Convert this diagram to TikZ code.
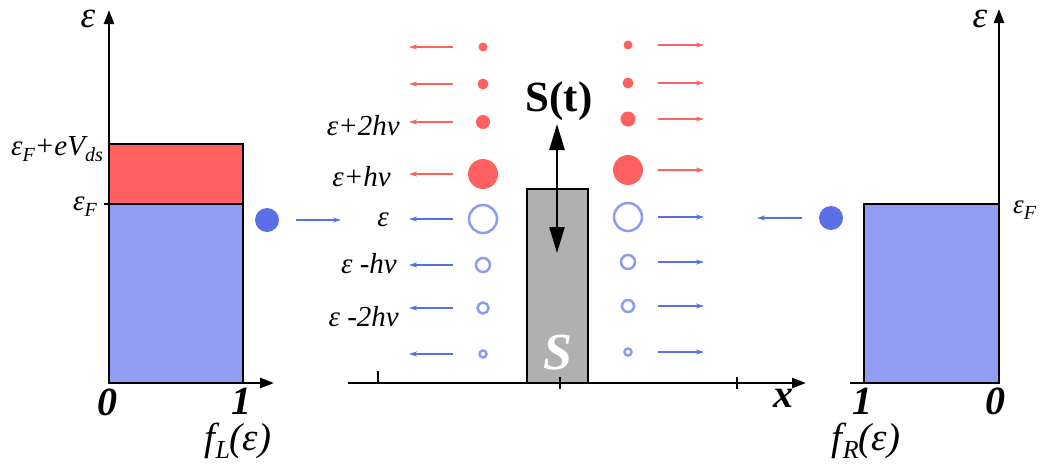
\documentclass[tikz,border=0pt]{standalone}
\usepackage{fontspec}
\setmainfont{LiberationSerif}[Extension=.ttf,UprightFont=*-Regular,ItalicFont=*-Italic,BoldFont=*-Bold,BoldItalicFont=*-BoldItalic]
\usetikzlibrary{arrows.meta}
\definecolor{hotred}{HTML}{FF6060}
\definecolor{fillblue}{HTML}{919DF3}
\definecolor{dotblue}{HTML}{5A6FE8}
\definecolor{ringblue}{HTML}{8C9BF2}
\definecolor{arrblue}{HTML}{5570E8}
\definecolor{barrier}{HTML}{B0B0B0}
\newcommand{\lowtxt}[1]{\raisebox{-6pt}{\fontsize{20}{20}\selectfont #1}}
\newcommand{\lowfn}[1]{\raisebox{-8pt}{\fontsize{26}{26}\selectfont #1}}
\tikzset{
  axisline/.style={line width=2.5pt,-{Triangle[length=14pt,width=10pt]}},
  flow/.style={line width=1.6pt,-{Stealth[length=8pt,width=5pt]}},
  box/.style={line width=1.5pt,draw=black},
  full/.style={circle,fill=hotred,inner sep=0pt,minimum size=#1},
  ring/.style={circle,draw=ringblue,line width=2.5pt,inner sep=0pt,minimum size=#1},
  lbl/.style={inner sep=0pt,font=\fontsize{29}{31}\selectfont\itshape},
  tick/.style={inner sep=0pt,text depth=0pt,font=\fontsize{40}{42}\selectfont\itshape\bfseries},
  eps/.style={inner sep=0pt,text height=17pt,font=\fontsize{37}{39}\selectfont\itshape},
  fn/.style={inner sep=0pt,font=\fontsize{39}{41}\selectfont\itshape},
}
\begin{document}
\begin{tikzpicture}[x=1pt,y=-1pt]
  \useasboundingbox (0,0) rectangle (1045,464);

  % left lead
  \fill[fillblue] (109,204) rectangle (243,383);
  \draw[box] (109,204) rectangle (243,383);
  \fill[hotred] (109,144) rectangle (243,204);
  \draw[box] (109,144) rectangle (243,204);
  \coordinate (Lo) at (109,383);
  \coordinate (Ltop) at (109,10);
  \coordinate (Lend) at (274,383);
  \draw[axisline] (Lo) -- (Ltop);
  \draw[axisline] (Lo) -- (Lend);
  \draw[line width=1.5pt] (104,204) -- (109,204);
  \node[eps,anchor=base] (epsL) at (88,27) {ε};
  \node[lbl,anchor=base east] (muL) at (103,155) {ε\lowtxt{F}+\itshape eV\lowtxt{ds}};
  \node[lbl,anchor=base east] (efL) at (97,210) {ε\lowtxt{F}};
  \node[tick,anchor=base] (zeroL) at (107,415) {0};
  \node[tick,anchor=base] (oneL) at (241,414) {1};
  \node[fn,anchor=base] (fL) at (238,450) {f\lowfn{L}(ε)};

  % incoming electrons
  \node[circle,fill=dotblue,inner sep=0pt,minimum size=24pt] (inL) at (267,220) {};
  \coordinate (inLa) at (296,220);
  \coordinate (inLb) at (341,220);
  \draw[flow,arrblue] (inLa) -- (inLb);
  \node[circle,fill=dotblue,inner sep=0pt,minimum size=24pt] (inR) at (831,218) {};
  \coordinate (inRa) at (802,218);
  \coordinate (inRb) at (757,218);
  \draw[flow,arrblue] (inRa) -- (inRb);

  % sidebands
  \foreach \n/\y/\d in {1/47/9,2/84/11,3/122/14,4/174/30} {
    \node[full=\d] (L\n) at (483,\y) {};
    \coordinate (La\n) at (453,\y);
    \coordinate (Lb\n) at (409,\y);
    \draw[flow,hotred] (La\n) -- (Lb\n);
  }
  \foreach \n/\y/\d in {5/219/28,6/265/14,7/308/11,8/354/7} {
    \node[ring=\d] (L\n) at (483,\y) {};
    \coordinate (La\n) at (453,\y);
    \coordinate (Lb\n) at (409,\y);
    \draw[flow,arrblue] (La\n) -- (Lb\n);
  }
  \foreach \n/\y/\d in {1/45/9,2/83/11,3/119/15,4/170/30} {
    \node[full=\d] (R\n) at (628,\y) {};
    \coordinate (Ra\n) at (658,\y);
    \coordinate (Rb\n) at (704,\y);
    \draw[flow,hotred] (Ra\n) -- (Rb\n);
  }
  \foreach \n/\y/\d in {5/217/28,6/262/14,7/306/12,8/352/7} {
    \node[ring=\d] (R\n) at (628,\y) {};
    \coordinate (Ra\n) at (658,\y);
    \coordinate (Rb\n) at (704,\y);
    \draw[flow,arrblue] (Ra\n) -- (Rb\n);
  }

  % energy labels
  \node[lbl,anchor=base east] (e2p) at (400,135) {ε+2hν};
  \node[lbl,anchor=base east] (e1p) at (391,186) {ε+hν};
  \node[lbl,anchor=base east] (e0) at (389,226) {ε};
  \node[lbl,anchor=base east] (e1m) at (397,273) {ε -hν};
  \node[lbl,anchor=base east] (e2m) at (399,326) {ε -2hν};

  % scatterer
  \fill[barrier] (527,189) rectangle (588,383);
  \draw[box,line width=2pt] (527,189) rectangle (588,383);
  \node[inner sep=0pt,text=white,font=\fontsize{52}{54}\selectfont\itshape\bfseries,anchor=base] (Sname) at (558,369) {S};
  \coordinate (Sx) at (348,383);
  \coordinate (Sxend) at (806,383);
  \draw[axisline] (Sx) -- (Sxend);
  \draw[line width=2pt] (378,371) -- (378,383);
  \draw[line width=2pt] (560,377) -- (560,389);
  \draw[line width=2pt] (737,377) -- (737,389);
  \node[inner sep=0pt,font=\fontsize{40}{42}\selectfont\itshape\bfseries,anchor=base] (xlab) at (783,407) {x};
  \coordinate (Sup) at (557,124);
  \coordinate (Sdown) at (557,253);
  \draw[line width=2.5pt,{Triangle[length=26pt,width=15pt]}-{Triangle[length=26pt,width=15pt]}] (Sup) -- (Sdown);
  \node[inner sep=0pt,font=\fontsize{43}{45}\selectfont\bfseries,anchor=base] (St) at (559,111) {S(t)};

  % right lead
  \fill[fillblue] (864,204) rectangle (999,383);
  \draw[box] (864,204) rectangle (999,383);
  \coordinate (Ro) at (999,383);
  \coordinate (Rtop) at (999,9);
  \coordinate (Rstart) at (850,383);
  \draw[axisline] (Ro) -- (Rtop);
  \draw[line width=2.5pt] (Rstart) -- (Ro);
  \node[eps,anchor=base] (epsR) at (980,27) {ε};
  \node[lbl,anchor=base west,font=\fontsize{27}{29}\selectfont\itshape] (efR) at (1013,213) {ε\lowtxt{F}};
  \node[tick,anchor=base] (oneR) at (862,414) {1};
  \node[tick,anchor=base] (zeroR) at (995,414) {0};
  \node[fn,anchor=base] (fR) at (866,450) {f\lowfn{R}(ε)};
\end{tikzpicture}
\end{document}
